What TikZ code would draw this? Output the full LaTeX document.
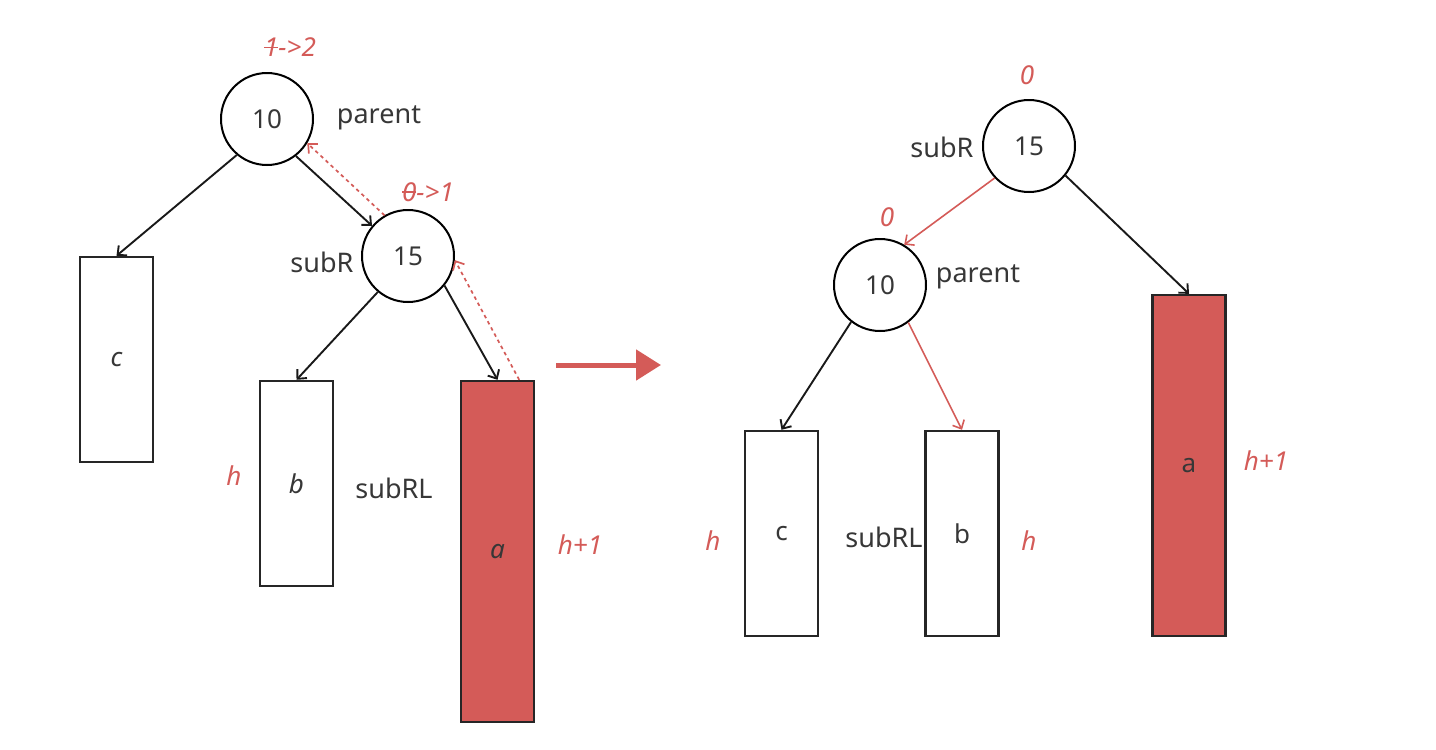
\documentclass[tikz,border=0pt]{standalone}
\usepackage{fontspec}
\setmainfont{Noto Sans}
\usepackage{tikz}
\usetikzlibrary{arrows.meta,positioning,calc}

\definecolor{avlred}{RGB}{212,91,88}
\definecolor{inkgray}{RGB}{55,55,55}
\newcommand{\strk}[1]{\setbox0\hbox{#1}\rlap{\raisebox{0.33em}{\rule{\wd0}{1.3pt}}}#1}

\tikzset{
    treenode/.style={circle,draw=black,line width=2pt,minimum size=92pt,inner sep=0pt,text=inkgray,font=\fontsize{26}{30}\selectfont},
    subtree/.style={rectangle,draw=black!85,line width=2.4pt,minimum width=73pt,text=inkgray,font=\fontsize{26}{30}\selectfont},
    lbl/.style={text=inkgray,font=\fontsize{27}{32}\selectfont},
    redlbl/.style={text=avlred,font=\fontsize{26}{30}\selectfont\itshape},
    edge/.style={-{Straight Barb[length=7pt,width=13pt]},line width=1.9pt,black!90},
    rededge/.style={-{Straight Barb[length=7pt,width=13pt]},line width=1.6pt,avlred},
    backedge/.style={-{Straight Barb[length=7pt,width=13pt]},line width=1.7pt,avlred,dash pattern=on 3.5pt off 3.5pt}
}

\begin{document}
\begin{tikzpicture}[x=1pt,y=-1pt]
    \fill[white] (0,0) rectangle (1436,750);
    \useasboundingbox (0,0) rectangle (1436,750);

    % before rotation
    \node[treenode] (p1) at (267,119) {10};
    \node[treenode] (s1) at (408,256) {15};
    \node[subtree,minimum height=205pt] (c1) at (116.5,359.5) {\itshape c};
    \node[subtree,minimum height=205pt] (b1) at (296.5,483.5) {\itshape b};
    \node[subtree,minimum height=341pt,fill=avlred] (a1) at (497.5,551.5) {\itshape a};

    \node[lbl] (p1name) at (379,118) {parent};
    \node[lbl] (s1name) at (322,262) {subR};
    \node[lbl] (b1name) at (394,488) {subRL};
    \node[redlbl] (p1bf) at (290,47) {\strk{1}->2};
    \node[redlbl] (s1bf) at (428,192) {\strk{0}->1};
    \node[redlbl] (b1h) at (234,476) {h};
    \node[redlbl] (a1h) at (580,545) {h+1};

    \draw[edge] (p1.230) -- (c1.north);
    \draw[edge] (p1.308) -- (s1.140);
    \draw[edge] (s1.230) -- (b1.north);
    \draw[edge] (s1.321) -- (a1.north);
    \draw[backedge] (s1.120) -- (p1.329);
    \draw[backedge] ([xshift=-16pt]a1.north east) -- (s1.355);

    % rotate left
    \coordinate (go) at (556,365);
    \coordinate (done) at (661,365);
    \draw[-{Triangle[length=25pt,width=30pt]},line width=5pt,avlred] (go) -- (done);

    % after rotation
    \node[treenode] (r1) at (1029,146) {15};
    \node[treenode] (q1) at (880,285) {10};
    \node[subtree,minimum height=205pt] (c2) at (781.5,533.5) {c};
    \node[subtree,minimum height=205pt] (b2) at (962,533.5) {b};
    \node[subtree,minimum height=341pt,fill=avlred] (a2) at (1189,465.5) {a};

    \node[lbl] (r1name) at (942,147) {subR};
    \node[lbl] (q1name) at (978,277) {parent};
    \node[lbl] (b2name) at (884,537) {subRL};
    \node[redlbl] (r1bf) at (1027,75) {0};
    \node[redlbl] (q1bf) at (887,217) {0};
    \node[redlbl] (c2h) at (713,541) {h};
    \node[redlbl] (b2h) at (1029,541) {h};
    \node[redlbl] (a2h) at (1266,461) {h+1};

    \draw[rededge] (r1.223) -- (q1.59);
    \draw[edge] (r1.321) -- (a2.north);
    \draw[edge] (q1.232) -- (c2.north);
    \draw[rededge] (q1.307) -- (b2.north);
\end{tikzpicture}
\end{document}
